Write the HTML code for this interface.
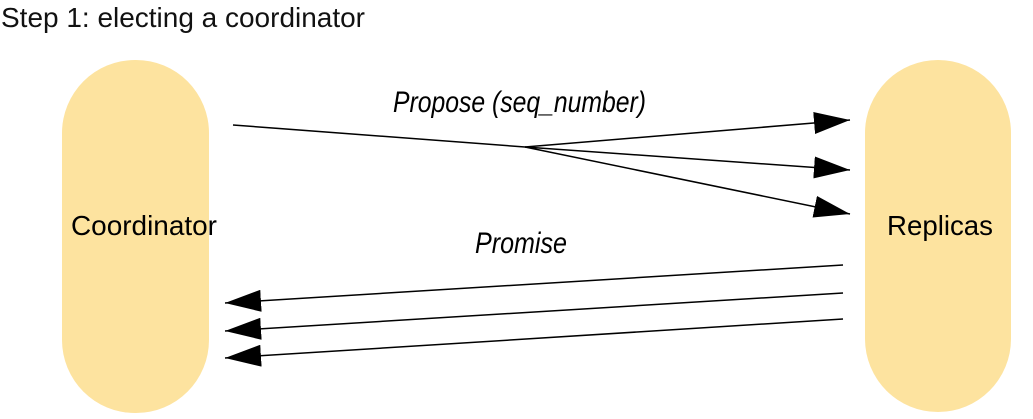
<!DOCTYPE html>
<html><head><meta charset="utf-8"><style>
html,body{margin:0;padding:0;background:#fff;width:1033px;height:419px;overflow:hidden}
text{font-family:"Liberation Sans",sans-serif}
</style></head><body>
<svg width="1033" height="419" xmlns="http://www.w3.org/2000/svg">
<defs>
<marker id="a" markerWidth="36" markerHeight="22" refX="36" refY="11" orient="auto" markerUnits="userSpaceOnUse">
<path d="M0,0 L36,11 L0,22 Z" fill="#000"/>
</marker>
</defs>
<text x="1" y="27" style="font-size:28px" textLength="364" lengthAdjust="spacingAndGlyphs" fill="#111">Step 1: electing a coordinator</text>
<rect x="62" y="60" width="147" height="353" rx="73" fill="#fde39f"/>
<rect x="865" y="60" width="146" height="352" rx="73" fill="#fde39f"/>
<text x="71" y="235" style="font-size:28px" textLength="146" lengthAdjust="spacingAndGlyphs" fill="#000">Coordinator</text>
<text x="887" y="235" style="font-size:28px" textLength="106" lengthAdjust="spacingAndGlyphs" fill="#000">Replicas</text>
<text x="393" y="112" style="font-size:30px;font-style:italic" textLength="253" lengthAdjust="spacingAndGlyphs" fill="#000">Propose (seq_number)</text>
<text x="475" y="253" style="font-size:30px;font-style:italic" textLength="92" lengthAdjust="spacingAndGlyphs" fill="#000">Promise</text>
<g stroke="#000" stroke-width="1.5" fill="none">
<line x1="233" y1="125" x2="525" y2="147"/>
<line x1="525" y1="147" x2="850" y2="120" marker-end="url(#a)"/>
<line x1="525" y1="147" x2="850" y2="170" marker-end="url(#a)"/>
<line x1="525" y1="147" x2="850" y2="214" marker-end="url(#a)"/>
<line x1="843" y1="265" x2="225" y2="303" marker-end="url(#a)"/>
<line x1="843" y1="293" x2="225" y2="331" marker-end="url(#a)"/>
<line x1="843" y1="319" x2="225" y2="358" marker-end="url(#a)"/>
</g>
</svg>
</body></html>
